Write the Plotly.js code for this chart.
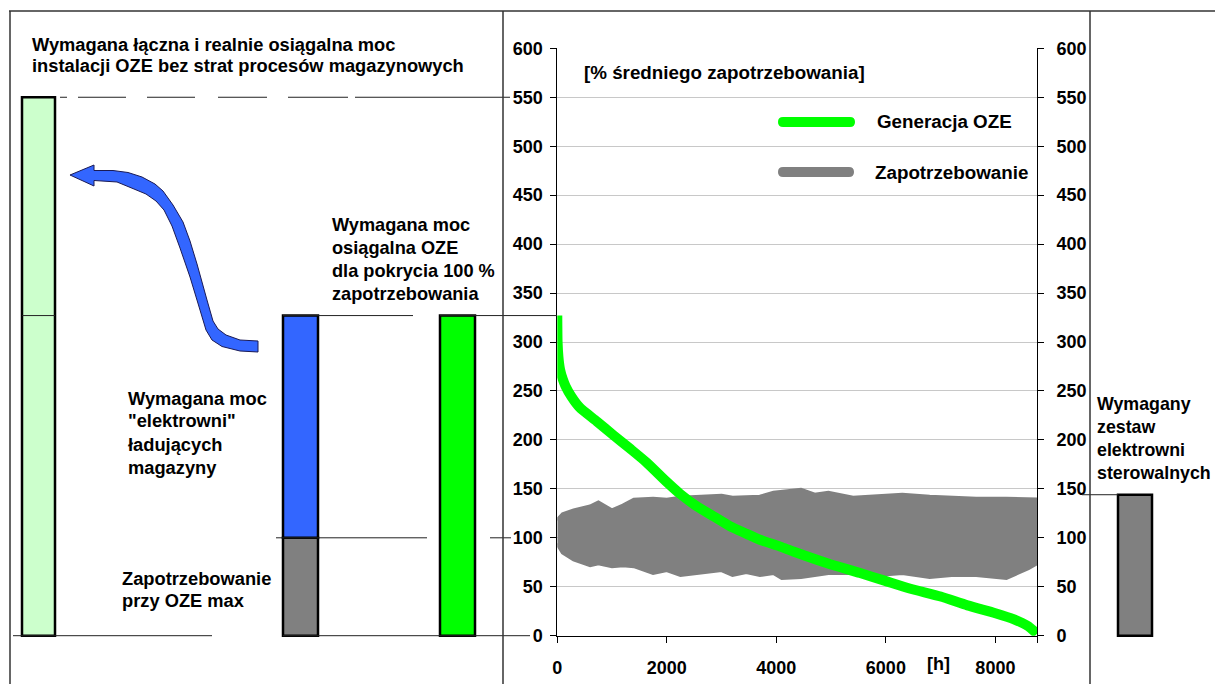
<!DOCTYPE html>
<html><head><meta charset="utf-8">
<script src="https://cdn.plot.ly/plotly-3.0.1.min.js"></script>
<style>html,body{margin:0;padding:0;background:#fff}#chart{width:1215px;height:684px}</style>
</head><body><div id="chart"></div>
<script>
// ---------------- data ----------------
const hourTicks = [0, 2000, 4000, 6000, 8000];
const yTicks = [0, 50, 100, 150, 200, 250, 300, 350, 400, 450, 500, 550, 600];

// Generacja OZE (sorted, % of mean demand)
const genHours = [0, 5, 20, 50, 100, 150, 260, 410, 720, 1020, 1330, 1630, 2000, 2240, 2550, 2850, 3150, 3460, 3700, 4070, 4310, 4930, 5530, 5990, 6450, 7000, 7490, 8000, 8330, 8590, 8760];
const genOZE   = [327, 300, 285, 272, 262, 255, 244, 233, 219, 205, 191, 177, 157, 145, 132, 122, 112, 104, 98, 91, 86, 74, 64, 56, 48, 40, 31, 23, 17, 10, 2];

// Zapotrzebowanie – envelope of the hourly cloud
const demandHours = [0, 100, 300, 600, 750, 1000, 1200, 1400, 1750, 2000, 2250, 2550, 3000, 3200, 3450, 3700, 3950, 4100, 4450, 4700, 4950, 5400, 5850, 6300, 6800, 7200, 7650, 8200, 8500, 8600, 8760];
const demandHigh  = [118, 124, 128, 132, 136, 128, 133, 139, 140, 139, 141, 142, 143, 141, 142, 142, 146, 147, 149, 144, 146, 141, 142, 144, 142, 141, 140, 140, 140, 139, 139];
const demandLow   = [94, 85, 78, 72, 74, 71, 72, 71, 64, 67, 62, 64, 67, 62, 65, 62, 64, 59, 60, 62, 64, 64, 62, 64, 60, 62, 62, 59, 66, 69, 74];

// Columns (values in % of mean demand)
const columnNames = ['łączna moc OZE', 'zapotrzebowanie przy OZE max', 'elektrownie ładujące magazyny', 'moc OZE dla 100 %', 'zestaw elektrowni sterowalnych'];
const columnBase  = [0, 0, 100, 0, 0];
const columnTop   = [550, 100, 327, 327, 144];

// ---------------- layout geometry / styles ----------------
const W = 1215, H = 684;
const colCenterPx = [38.5, 300.5, 300.5, 457.5, 1135];
const colWidthPx  = [33, 35, 35, 35, 34];
const colColors   = ['#ccffcc', '#808080', '#3366ff', '#00ff00', '#808080'];

const FONT = 'Liberation Sans, Arial, sans-serif';
const tickFont = {family: FONT, size: 18, color: '#000', weight: 'bold'};
const px = x => x / W;
const py = y => 1 - y / H;
const P = (x, y) => px(x).toFixed(5) + ',' + py(y).toFixed(5);

const traces = [
  {x: demandHours, y: demandLow, mode: 'lines', line: {color: '#808080', width: 4}, xaxis: 'x', yaxis: 'y', hoverinfo: 'skip', showlegend: false},
  {x: demandHours, y: demandHigh, mode: 'lines', fill: 'tonexty', fillcolor: '#808080', line: {color: '#808080', width: 4}, xaxis: 'x', yaxis: 'y', name: 'Zapotrzebowanie', showlegend: false},
  {x: genHours, y: genOZE, mode: 'lines', line: {color: '#00ff00', width: 10, shape: 'spline', smoothing: 0.6}, xaxis: 'x', yaxis: 'y', name: 'Generacja OZE', showlegend: false},
  {type: 'bar', x: colCenterPx, width: colWidthPx, base: columnBase,
   y: columnTop.map((t, i) => t - columnBase[i]), text: columnNames, textposition: 'none',
   marker: {color: colColors, line: {color: '#000', width: 2.5}},
   xaxis: 'x3', yaxis: 'y2', showlegend: false},
  {x: [], y: [], xaxis: 'x', yaxis: 'y4', showlegend: false}
];

// value-tied horizontal reference lines: [value, x0px, x1px]
const refSegs = [
  [550, 60, 67], [550, 78, 126], [550, 147, 195], [550, 218, 267], [550, 288, 348], [550, 355, 510],
  [327, 22, 55], [327, 283, 413], [327, 440, 557],
  [100, 276, 427], [100, 490, 511],
  [0, 13, 212], [0, 283, 530],
  [144, 1082, 1118]
];
const shapes = refSegs.map(s => ({type: 'line', xref: 'x3', yref: 'y2', x0: s[1], x1: s[2], y0: s[0], y1: s[0], line: {color: '#222', width: 1}}));

// frame lines (pixels)
[[9, 11, 1215, 11], [10, 11, 10, 684], [503, 11, 503, 684], [1090, 11, 1090, 684]].forEach(l => {
  shapes.push({type: 'line', xref: 'paper', yref: 'paper', x0: px(l[0]), y0: py(l[1]), x1: px(l[2]), y1: py(l[3]), line: {color: '#333', width: 1.5}});
});

// curved blue arrow
const arrowPts = [[70,175],[94,165],[94,170.5],[113,170.5],[128,172.5],[142,177],[155,184],[163,191],[173,205],[183,222],[190,241],[197,264],[207,300],[213,321],[218,329],[226,335],[240,340],[258,341],
  [258,352],[240,351],[222,346.5],[212,340],[206,330],[200,310],[190,277],[180,248],[172,226],[164,210],[156,201],[146,194],[134,189],[117,182],[94,180.5],[94,186]];
shapes.push({type: 'path', xref: 'paper', yref: 'paper', path: 'M' + arrowPts.map(p => P(p[0], p[1])).join(' L') + ' Z',
  fillcolor: '#3366ff', line: {color: '#1a1a55', width: 1}});

// legend swatches (rounded bars)
function pill(x0, x1, yc, h) {
  const r = h / 2;
  return 'M' + P(x0 + r, yc - r) + ' L' + P(x1 - r, yc - r) + ' Q' + P(x1, yc - r) + ' ' + P(x1, yc) + ' Q' + P(x1, yc + r) + ' ' + P(x1 - r, yc + r) +
    ' L' + P(x0 + r, yc + r) + ' Q' + P(x0, yc + r) + ' ' + P(x0, yc) + ' Q' + P(x0, yc - r) + ' ' + P(x0 + r, yc - r) + ' Z';
}
shapes.push({type: 'path', xref: 'paper', yref: 'paper', path: pill(778, 855, 122, 10), fillcolor: '#00ff00', line: {width: 0}});
shapes.push({type: 'path', xref: 'paper', yref: 'paper', path: pill(778, 854, 172, 10), fillcolor: '#808080', line: {width: 0}});

function ann(text, x, y, size, xanchor) {
  return {text: text, xref: 'paper', yref: 'paper', x: px(x), y: py(y), xanchor: xanchor || 'left', yanchor: 'middle', align: 'left',
    showarrow: false, borderpad: 0, font: {family: FONT, size: size || 18.8, color: '#000', weight: 'bold'}};
}
// text blocks: [lines, xpx, first line centre ypx, line step, font size]
const blocks = [
  [['Wymagana łączna i realnie osiągalna moc', 'instalacji OZE bez strat procesów magazynowych'], 31, 45, 21, 18.3],
  [['Wymagana moc', 'osiągalna OZE', 'dla pokrycia 100 %', 'zapotrzebowania'], 331, 225, 23, 18.2],
  [['Wymagana moc', '"elektrowni"', 'ładujących', 'magazyny'], 127, 398, 23, 18.3],
  [['Zapotrzebowanie', 'przy OZE max'], 121, 578, 22.5, 18.3],
  [['Wymagany', 'zestaw', 'elektrowni', 'sterowalnych'], 1096, 404, 23, 17.8]
];
const annotations = [
  ann('[% średniego zapotrzebowania]', 583, 72),
  ann('Generacja OZE', 876, 122),
  ann('Zapotrzebowanie', 874, 172),
  ann('[h]', 938, 664, 18, 'center')
];
blocks.forEach(b => b[0].forEach((t, i) => annotations.push(ann(t, b[1], b[2] + i * b[3], b[4]))));

const yDom = [48.3 / H, 1 - 48.3 / H];
const ppu = (635.7 - 48.3) / 600;
const yAxisCommon = {range: [0, 600], tickvals: yTicks, ticks: 'outside', ticklen: 6, tickwidth: 1, tickcolor: '#000',
  showline: true, linecolor: '#000', linewidth: 1, zeroline: false, tickfont: tickFont, fixedrange: true};

const layout = {
  width: W, height: H,
  margin: {l: 0, r: 0, t: 0, b: 0, pad: 0},
  paper_bgcolor: '#fff', plot_bgcolor: 'rgba(0,0,0,0)',
  showlegend: false,
  xaxis: {domain: [557.3 / W, 1037 / W], range: [0, 8760], anchor: 'y',
    tickvals: hourTicks.concat([8760]), ticktext: hourTicks.map(String).concat(['']),
    ticks: 'outside', ticklen: 6, tickwidth: 1, tickcolor: '#000', ticklabelstandoff: 10,
    showline: true, linecolor: '#000', linewidth: 1, showgrid: false, zeroline: false, tickfont: tickFont, fixedrange: true},
  yaxis: Object.assign({}, yAxisCommon, {domain: yDom, anchor: 'x', showgrid: true, gridcolor: '#c8c8c8', gridwidth: 1, ticklabelstandoff: 4}),
  yaxis4: Object.assign({}, yAxisCommon, {overlaying: 'y', side: 'right', anchor: 'x', showgrid: false, ticklabelstandoff: 9}),
  xaxis3: {domain: [0, 1], range: [0, W], visible: false, anchor: 'y2', fixedrange: true},
  yaxis2: {domain: [0, 1], range: [-48.3 / ppu, 600 + 48.3 / ppu], visible: false, anchor: 'x3', fixedrange: true},
  shapes: shapes,
  annotations: annotations
};

Plotly.newPlot('chart', traces, layout, {staticPlot: true, displayModeBar: false});
</script>
</body></html>
